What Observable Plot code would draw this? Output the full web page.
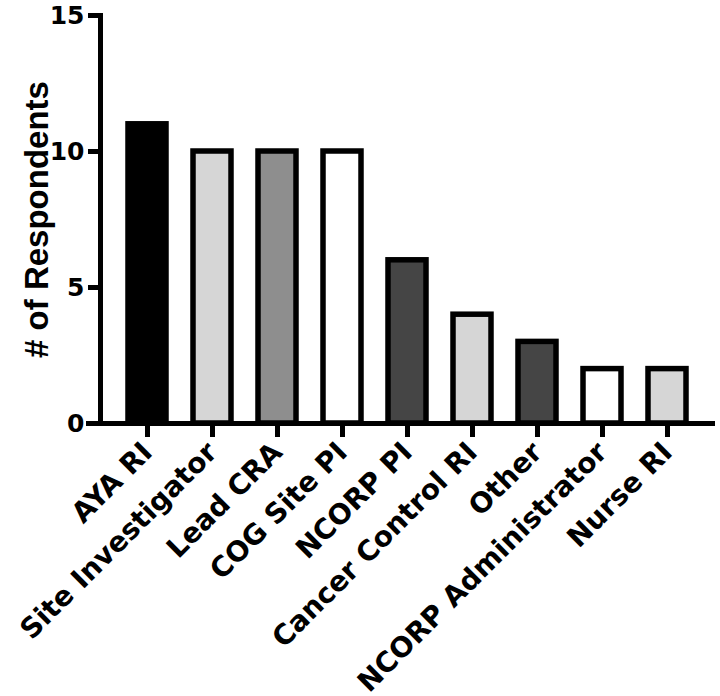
<!DOCTYPE html>
<html><head><meta charset="utf-8">
<script src="https://cdn.jsdelivr.net/npm/d3@7"></script>
<script src="https://cdn.jsdelivr.net/npm/@observablehq/plot@0.6"></script>
<style>body{margin:0;background:#fff}</style>
</head><body><div id="chart"></div>
<script>
const roles = ["AYA RI","Site Investigator","Lead CRA","COG Site PI","NCORP PI","Cancer Control RI","Other","NCORP Administrator","Nurse RI"];
const counts = [11,10,10,10,6,4,3,2,2];
const fills = ["#000000","#d6d6d6","#8e8e8e","#ffffff","#454545","#d6d6d6","#454545","#ffffff","#d6d6d6"];
const yTicks = [0,5,10,15];
const yLabel = "# of Respondents";

const data = roles.map((r,i)=>({role:r,count:counts[i],fill:fills[i]}));

const chart = Plot.plot({
  width:720, height:696,
  marginTop:15, marginBottom:273, marginLeft:102, marginRight:9,
  style:{fontFamily:"'DejaVu Sans', sans-serif", fontWeight:"bold", fontSize:"26px", background:"#fff", color:"#000"},
  x:{domain:roles, paddingInner:0.42, paddingOuter:0.386},
  y:{domain:[0,15]},
  marks:[
    Plot.barY(data,{x:"role",y:"count",fill:"fill",stroke:"#000",strokeWidth:5.5}),
    Plot.ruleY([0],{stroke:"#000",strokeWidth:5,insetLeft:-16,insetRight:-4}),
    Plot.frame({anchor:"left",stroke:"#000",strokeWidth:5,dx:-2}),
    Plot.axisY({ticks:yTicks,tickSize:14,tickPadding:4,strokeWidth:5,fontSize:25,label:null,tickFormat:d=>String(d)}),
    Plot.axisX({tickSize:14,tickPadding:10,strokeWidth:5,fontSize:28,tickRotate:-45,label:null}),
    Plot.text([yLabel],{frameAnchor:"left",dx:-65,rotate:-90,fontSize:33,fontFamily:"'Liberation Sans', Arial, sans-serif",fontWeight:"bold",textAnchor:"middle",lineAnchor:"middle"})
  ]
});
document.getElementById("chart").appendChild(chart);
</script>
</body></html>
